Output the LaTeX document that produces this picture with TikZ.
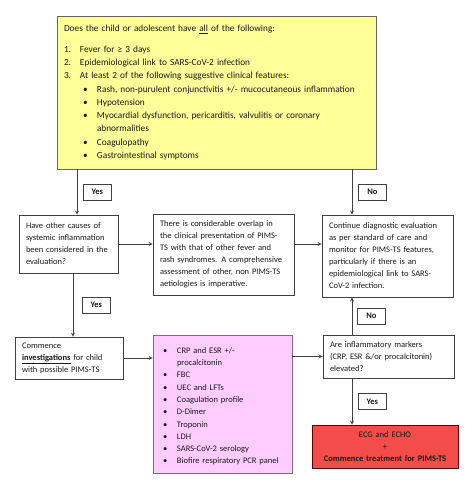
\documentclass[tikz,border=0pt]{standalone}
\usepackage{fontspec}
\setmainfont{Carlito}
\usepackage{array}
\definecolor{critfill}{HTML}{FFFF99}
\definecolor{testfill}{HTML}{FFCCFF}
\definecolor{testdraw}{HTML}{7A6A7A}
\definecolor{treatfill}{HTML}{F44B4B}
\definecolor{linegray}{HTML}{404040}
\begin{document}
\begin{tikzpicture}[node distance=155pt, x=1pt, y=1pt]
  \tikzstyle{every node}=[font=\fontsize{8.5}{12}\selectfont, text=black!90]
  \tikzstyle{box}=[rectangle, draw=linegray, line width=0.8pt, align=left, inner xsep=7pt, inner ysep=0pt]
  \tikzstyle{lbl}=[rectangle, draw=linegray, line width=0.8pt, fill=white, minimum width=28pt,
                minimum height=16pt, inner sep=0pt, font=\fontsize{8.5}{10}\selectfont\bfseries]
  \tikzstyle{arr}=[line width=0.8pt, draw=linegray, ->, >=stealth]

  \useasboundingbox (0,0) rectangle (474,-490);

  % Main boxes
  \node (criteria) [box, fill=critfill, draw=black!60, minimum width=319pt, minimum height=153pt,
                text width=305pt, font=\fontsize{9.3}{13.3}\selectfont] at (216.5,-92.5)
                {\tabular{@{}p{16pt}@{}p{17pt}@{}l@{}}
                \multicolumn{3}{@{}l@{}}{Does the child or adolescent have \underline{all} of the following:}\\[7pt]
                1. & \multicolumn{2}{@{}l@{}}{Fever for ≥ 3 days}\\
                2. & \multicolumn{2}{@{}l@{}}{Epidemiological link to SARS-CoV-2 infection}\\
                3. & \multicolumn{2}{@{}l@{}}{At least 2 of the following suggestive clinical features:}\\
                 & \hspace{3pt}\textbullet & Rash, non-purulent conjunctivitis +/- mucocutaneous inflammation\\
                 & \hspace{3pt}\textbullet & Hypotension\\
                 & \hspace{3pt}\textbullet & Myocardial dysfunction, pericarditis, valvulitis or coronary\\
                 & & abnormalities\\
                 & \hspace{3pt}\textbullet & Coagulopathy\\
                 & \hspace{3pt}\textbullet & Gastrointestinal symptoms
                \endtabular};

  \node (others) [box, minimum width=99pt, minimum height=58pt, text width=85pt,
                below of=criteria, xshift=-148pt, yshift=3.5pt]
                {Have other causes of\\ systemic inflammation\\ been considered in the\\ evaluation?};

  \node (overlap) [box, minimum width=141pt, minimum height=81pt, text width=127pt,
                right of=others, yshift=-10.5pt]
                {There is considerable overlap in\\ the clinical presentation of PIMS-\\ TS with that of other fever and\\
                rash syndromes. A comprehensive\\ assessment of other, non PIMS-TS\\ aetiologies is imperative.};

  \node (continue) [box, minimum width=131pt, minimum height=82pt, text width=117pt,
                right of=overlap, xshift=9pt, yshift=-1.5pt]
                {Continue diagnostic evaluation\\ as per standard of care and\\ monitor for PIMS-TS features,\\
                particularly if there is an\\ epidemiological link to SARS-\\ CoV-2 infection.};

  \node (commence) [box, minimum width=108pt, minimum height=42pt, text width=94pt,
                below of=others, xshift=0.5pt, yshift=41pt]
                {Commence\\ \textbf{\underline{investigations}} for child\\ with possible PIMS-TS};

  \node (tests) [box, fill=testfill, draw=testdraw, minimum width=139pt, minimum height=138pt,
                text width=125pt, font=\fontsize{8.5}{12.3}\selectfont,
                right of=commence, xshift=-1.5pt, yshift=-46pt]
                {\tabular{@{}p{17pt}@{}l@{}}
                \hspace{3pt}\textbullet & CRP and ESR +/-\\
                 & procalcitonin\\
                \hspace{3pt}\textbullet & FBC\\
                \hspace{3pt}\textbullet & UEC and LFTs\\
                \hspace{3pt}\textbullet & Coagulation profile\\
                \hspace{3pt}\textbullet & D-Dimer\\
                \hspace{3pt}\textbullet & Troponin\\
                \hspace{3pt}\textbullet & LDH\\
                \hspace{3pt}\textbullet & SARS-CoV-2 serology\\
                \hspace{3pt}\textbullet & Biofire respiratory PCR panel\\[-4.3pt]
                \endtabular};

  \node (markers) [box, minimum width=131pt, minimum height=43pt, text width=117pt,
                right of=tests, xshift=11pt, yshift=47.5pt]
                {Are inflammatory markers\\ (CRP, ESR \&/or procalcitonin)\\ elevated?};

  \node (treat) [box, fill=treatfill, draw=red!40!black, minimum width=146pt, minimum height=43pt,
                text width=132pt, align=center, font=\fontsize{8.5}{11.7}\selectfont,
                below of=markers, xshift=-3.5pt, yshift=65pt]
                {ECG and ECHO\\ +\\ \textbf{Commence treatment for PIMS-TS}};

  % Arrows
  \draw[arr] ([xshift=8.5pt]others.north |- criteria.south) -- node[lbl, right=6pt] {Yes}
             ([xshift=8.5pt]others.north);
  \draw[arr] ([xshift=-35.5pt]continue.north |- criteria.south) -- node[lbl, right=6pt] {No}
             ([xshift=-35.5pt]continue.north);
  \draw[arr] (others.east) to (others.east -| overlap.west);
  \draw[arr] (others.east -| overlap.east) to (others.east -| continue.west);
  \draw[arr] ([xshift=4.5pt]others.south) -- node[lbl, right=9pt] {Yes}
             ([xshift=4.5pt]others.south |- commence.north);
  \draw[arr] (commence.east) to (commence.east -| tests.west);
  \draw[arr] (tests.east |- markers.west) to (markers.west);
  \draw[arr] ([xshift=-36.5pt]markers.north) -- node[lbl, right=5pt] {No}
             ([xshift=-36.5pt]markers.north |- continue.south);
  \draw[arr] ([xshift=-36.5pt]markers.south) -- node[lbl, right=6pt] {Yes}
             ([xshift=-36.5pt]markers.south |- treat.north);
\end{tikzpicture}
\end{document}
